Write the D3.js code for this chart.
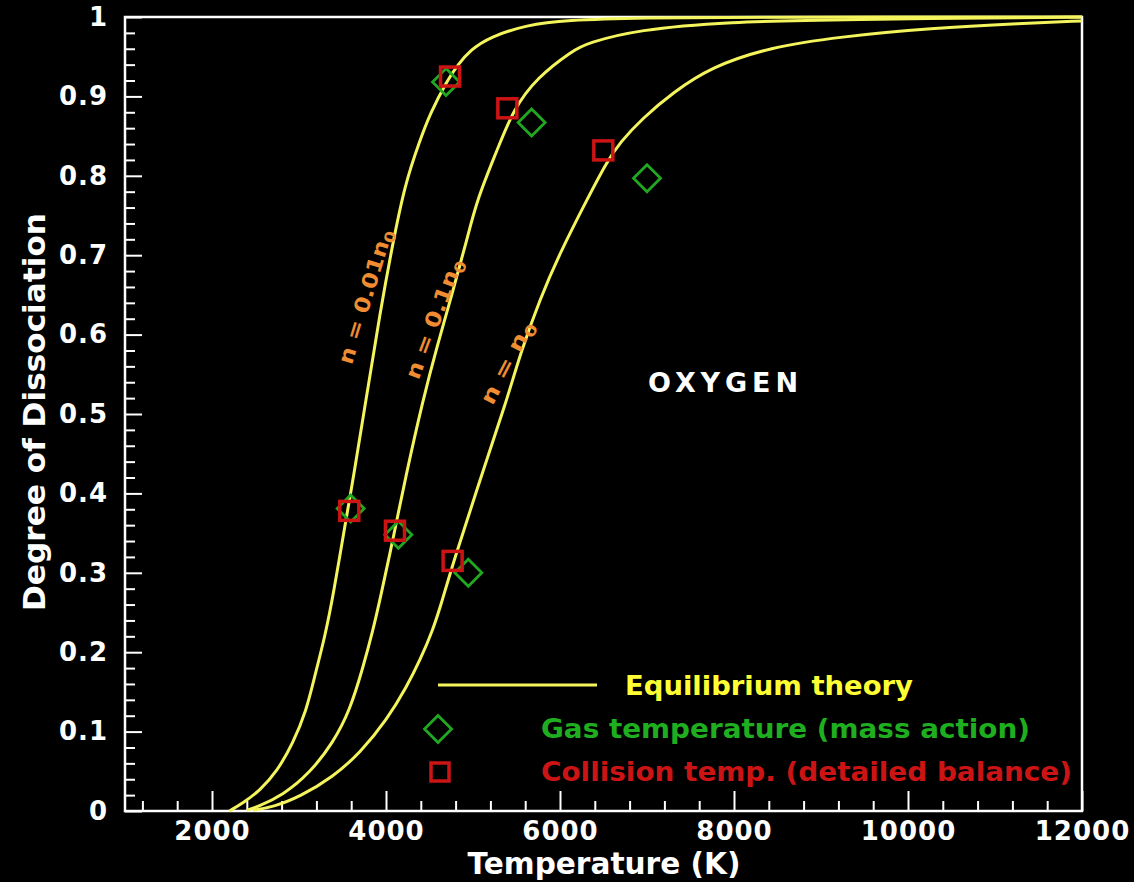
<!DOCTYPE html>
<html>
<head>
<meta charset="utf-8">
<script src="https://cdn.jsdelivr.net/npm/d3@7"></script>
<style>
  html, body { margin: 0; padding: 0; background: #000; }
  svg { display: block; font-family: "DejaVu Sans", Verdana, sans-serif; font-weight: bold; }
</style>
</head>
<body>
<svg id="chart" width="1134" height="882"></svg>
<script>
// ---- data ----
const xTickValues = [2000, 4000, 6000, 8000, 10000, 12000];
const yTickValues = [0, 0.1, 0.2, 0.3, 0.4, 0.5, 0.6, 0.7, 0.8, 0.9, 1];

// n = 0.01 n0
const tempA = [2200, 2356, 2552, 2747, 2931, 3088, 3165, 3299, 3391, 3552, 3621, 3782, 3931, 4069, 4218, 4391, 4506, 4701, 4828, 4966, 5195, 5621, 6046, 7000, 8000, 12000];
const degA  = [0, 0.010, 0.026, 0.050, 0.085, 0.128, 0.163, 0.220, 0.270, 0.375, 0.417, 0.526, 0.627, 0.710, 0.790, 0.845, 0.878, 0.920, 0.940, 0.958, 0.975, 0.990, 0.996, 0.999, 1.0, 1.0];
// n = 0.1 n0
const tempB = [2400, 2517, 2816, 3126, 3391, 3586, 3736, 3851, 3931, 4103, 4218, 4425, 4586, 4770, 4931, 5046, 5276, 5460, 5736, 6149, 6310, 6885, 7943, 9207, 12000];
const degB  = [0.001, 0.005, 0.020, 0.048, 0.086, 0.127, 0.181, 0.228, 0.266, 0.354, 0.417, 0.518, 0.585, 0.655, 0.720, 0.770, 0.832, 0.883, 0.924, 0.958, 0.967, 0.984, 0.994, 0.997, 1.0];
// n = n0
const tempC = [2471, 2701, 3011, 3391, 3701, 4011, 4241, 4391, 4540, 4644, 4770, 5080, 5391, 5540, 5770, 6000, 6310, 6540, 6690, 6943, 7300, 7736, 8414, 9207, 10264, 11322, 12000];
const degC  = [0.001, 0.005, 0.018, 0.043, 0.073, 0.115, 0.157, 0.190, 0.228, 0.264, 0.312, 0.417, 0.518, 0.575, 0.645, 0.703, 0.770, 0.818, 0.842, 0.872, 0.905, 0.937, 0.962, 0.975, 0.986, 0.992, 0.995];

// Gas temperature (mass action) - diamonds
const gasTemp = [3594, 4142, 4946, 4690, 5674, 7000];
const gasDeg  = [0.381, 0.348, 0.300, 0.918, 0.867, 0.797];
// Collision temp. (detailed balance) - squares
const colTemp = [3578, 4103, 4766, 4736, 5395, 6498];
const colDeg  = [0.378, 0.353, 0.315, 0.925, 0.885, 0.832];

const curveLabels = [
  { main: "n = 0.01n", sub: "0", T: 3760, d: 0.648, angle: -73, len: 140 },
  { main: "n = 0.1n",  sub: "0", T: 4550, d: 0.620, angle: -69.5, len: 127 },
  { main: "n = n",     sub: "0", T: 5390, d: 0.565, angle: -62.5, len: 91 }
];

// ---- drawing ----
const svg = d3.select("#chart");
svg.append("rect").attr("width", 1134).attr("height", 882).attr("fill", "#000");

const x = d3.scaleLinear().domain([1000, 12000]).range([125, 1082]);
const y = d3.scaleLinear().domain([0, 1]).range([811, 17]);

const yellow = "#f4f45c";
const green = "#20a820";
const red = "#cc1414";
const orange = "#f08c32";
const FONT = '"DejaVu Sans", Verdana, sans-serif';

// frame
svg.append("rect")
  .attr("x", x(1000)).attr("y", y(1))
  .attr("width", x(12000) - x(1000)).attr("height", y(0) - y(1))
  .attr("fill", "none").attr("stroke", "#fff").attr("stroke-width", 2.5);

// minor ticks
const xMinor = d3.range(1200, 12000, 400).filter(v => v % 2000 !== 0);
const yMinor = d3.range(0.02, 1, 0.02).filter(v => Math.abs(v * 10 - Math.round(v * 10)) > 1e-6);

svg.append("g").attr("transform", `translate(0,${y(0)})`)
  .call(d3.axisBottom(x).tickValues(xMinor).tickSize(-10).tickFormat(""));
svg.append("g").attr("transform", `translate(0,${y(0)})`)
  .call(d3.axisBottom(x).tickValues(xTickValues).tickSize(-20).tickPadding(11).tickFormat(d3.format("d")));

svg.append("g").attr("transform", `translate(${x(1000)},0)`)
  .call(d3.axisLeft(y).tickValues(yMinor).tickSize(-10).tickFormat(""));
svg.append("g").attr("transform", `translate(${x(1000)},0)`)
  .call(d3.axisLeft(y).tickValues(yTickValues).tickSize(-17).tickPadding(17).tickFormat(d => d === 0 ? "0" : d === 1 ? "1" : d3.format(".1f")(d)));

svg.selectAll(".domain").remove();
svg.selectAll(".tick line").attr("stroke", "#fff").attr("stroke-width", 2);
svg.selectAll(".tick text")
  .attr("fill", "#fff")
  .style("font-size", "26px")
  .style("font-weight", "bold")
  .style("font-family", FONT)
  .style("letter-spacing", "1px");

// curves
const line = d3.line().x(d => x(d[0])).y(d => y(d[1])).curve(d3.curveBasis);
[[tempA, degA], [tempB, degB], [tempC, degC]].forEach(([t, dd]) => {
  svg.append("path")
    .datum(t.map((v, i) => [v, dd[i]]))
    .attr("d", line)
    .attr("fill", "none")
    .attr("stroke", yellow)
    .attr("stroke-width", 3);
});

// markers
const diamondHalf = 13.5;
function diamondPath(cx, cy, h) {
  return `M${cx},${cy - h}L${cx + h},${cy}L${cx},${cy + h}L${cx - h},${cy}Z`;
}
svg.append("g").selectAll("path")
  .data(gasTemp.map((t, i) => [t, gasDeg[i]]))
  .join("path")
  .attr("d", d => diamondPath(x(d[0]), y(d[1]), diamondHalf))
  .attr("fill", "none").attr("stroke", green).attr("stroke-width", 2.8);

const sq = 19;
svg.append("g").selectAll("rect")
  .data(colTemp.map((t, i) => [t, colDeg[i]]))
  .join("rect")
  .attr("x", d => x(d[0]) - sq / 2).attr("y", d => y(d[1]) - sq / 2)
  .attr("width", sq).attr("height", sq)
  .attr("fill", "none").attr("stroke", red).attr("stroke-width", 3.5);

// curve labels
curveLabels.forEach(l => {
  const t = svg.append("text")
    .attr("transform", `translate(${x(l.T)},${y(l.d)}) rotate(${l.angle})`)
    .attr("text-anchor", "middle")
    .attr("dy", "0.35em")
    .attr("fill", orange)
    .style("font-size", "21px")
    .attr("textLength", l.len)
    .attr("lengthAdjust", "spacingAndGlyphs");
  t.append("tspan").text(l.main);
  t.append("tspan").attr("dy", "0.3em").style("font-size", "15px").text(l.sub);
});

// OXYGEN
svg.append("text")
  .attr("x", 723).attr("y", 392)
  .attr("text-anchor", "middle")
  .attr("fill", "#fff")
  .style("font-size", "27px")
  .attr("textLength", 150).attr("lengthAdjust", "spacing")
  .text("OXYGEN");

// axis titles
svg.append("text")
  .attr("x", 604).attr("y", 874)
  .attr("text-anchor", "middle")
  .attr("fill", "#fff")
  .style("font-size", "30px")
  .attr("textLength", 273).attr("lengthAdjust", "spacingAndGlyphs")
  .text("Temperature (K)");

svg.append("text")
  .attr("transform", "translate(45,412) rotate(-90)")
  .attr("text-anchor", "middle")
  .attr("fill", "#fff")
  .style("font-size", "31px")
  .attr("textLength", 398).attr("lengthAdjust", "spacingAndGlyphs")
  .text("Degree of Dissociation");

// legend
const leg = svg.append("g");
leg.append("line").attr("x1", 438).attr("x2", 597).attr("y1", 685).attr("y2", 685)
  .attr("stroke", yellow).attr("stroke-width", 3);
leg.append("text").attr("x", 625).attr("y", 695).attr("fill", "#ffff33")
  .style("font-size", "27px").attr("textLength", 288).attr("lengthAdjust", "spacingAndGlyphs")
  .text("Equilibrium theory");
leg.append("path").attr("d", diamondPath(438, 729, diamondHalf))
  .attr("fill", "none").attr("stroke", green).attr("stroke-width", 2.8);
leg.append("text").attr("x", 541).attr("y", 738).attr("fill", "#1fae1f")
  .style("font-size", "27px").attr("textLength", 489).attr("lengthAdjust", "spacingAndGlyphs")
  .text("Gas temperature (mass action)");
leg.append("rect").attr("x", 440 - 9).attr("y", 772 - 9).attr("width", 18).attr("height", 18)
  .attr("fill", "none").attr("stroke", red).attr("stroke-width", 3.5);
leg.append("text").attr("x", 541).attr("y", 781).attr("fill", red)
  .style("font-size", "27px").attr("textLength", 531).attr("lengthAdjust", "spacingAndGlyphs")
  .text("Collision temp. (detailed balance)");
</script>
</body>
</html>
